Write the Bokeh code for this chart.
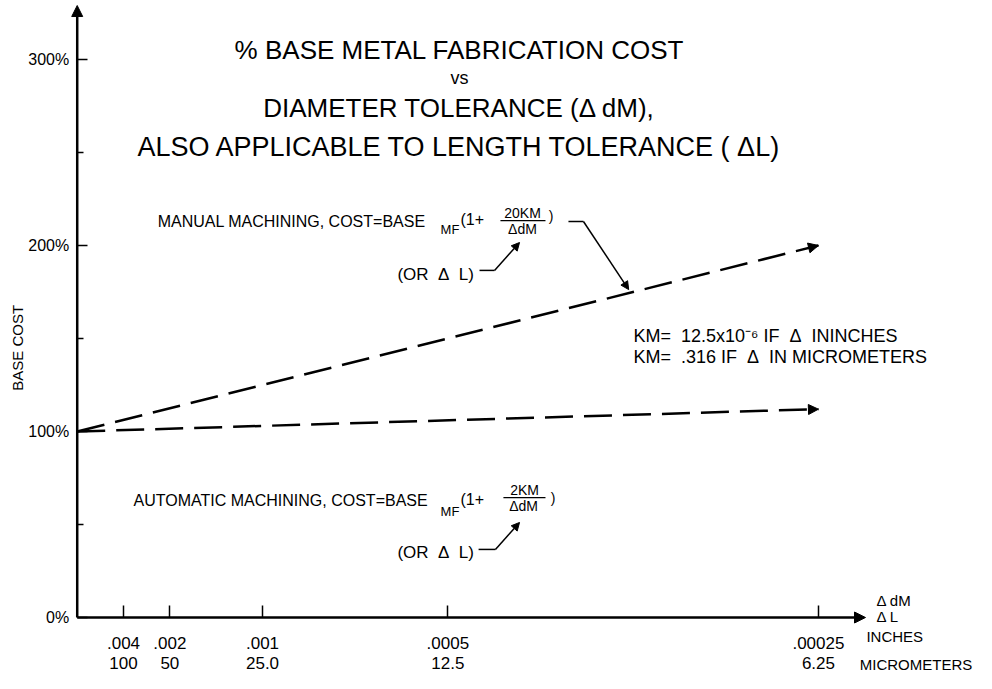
from bokeh.plotting import figure
from bokeh.models import Range1d, FixedTicker, Arrow, NormalHead
from bokeh.core.properties import value
from bokeh.embed import file_html
from bokeh.resources import INLINE
import math

# ---------------- data ----------------
tol_inches = [".004", ".002", ".001", ".0005", ".00025"]
tol_micrometers = ["100", "50", "25.0", "12.5", "6.25"]
inv_tol = [250, 500, 1000, 2000, 4000]          # 1 / tolerance (1/inch), linear scale
cost_ticks = [0, 100, 200, 300]
cost_minor_ticks = [50, 150, 250]
cost_labels = ["0%", "100%", "200%", "300%"]

line_x = [0, 4000]
manual_cost = [100, 200]
automatic_cost = [100, 112]

FONT = "Liberation Sans"
NB = "\u00a0"

p = figure(width=976, height=673, x_range=Range1d(-414, 4853), y_range=Range1d(-30.1, 331.7),
           output_backend="svg", toolbar_location=None, min_border=0)
p.outline_line_color = None
p.grid.visible = False
p.background_fill_color = "white"

# axes placed at the origin
xa = p.xaxis[0]
ya = p.yaxis[0]
xa.fixed_location = 0
ya.fixed_location = 0
xa.ticker = FixedTicker(ticks=inv_tol, minor_ticks=[])
xa.major_label_overrides = {t: f"{a}\n{b}" for t, a, b in zip(inv_tol, tol_inches, tol_micrometers)}
ya.ticker = FixedTicker(ticks=cost_ticks, minor_ticks=cost_minor_ticks)
ya.major_label_overrides = {t: l for t, l in zip(cost_ticks, cost_labels)}
for ax in (xa, ya):
    ax.axis_line_color = None
    ax.major_tick_out = 0
    ax.minor_tick_out = 0
    ax.major_tick_line_width = 1.5
    ax.minor_tick_line_width = 1.5
    ax.major_tick_line_color = "black"
    ax.minor_tick_line_color = "black"
    ax.major_label_text_font = FONT
    ax.major_label_text_color = "black"
xa.major_tick_in = 12
xa.minor_tick_in = 0
xa.major_label_standoff = 16
xa.major_label_text_font_size = "17px"
xa.major_label_text_line_height = 1.1
ya.major_tick_in = 10
ya.minor_tick_in = 6
ya.major_label_standoff = 8
ya.major_label_text_font_size = "16px"

# axis arrows
p.add_layout(Arrow(x_start=0, y_start=0, x_end=0, y_end=329, line_width=2.5,
                   end=NormalHead(size=11, fill_color="black", line_color="black")))
p.add_layout(Arrow(x_start=0, y_start=0, x_end=4254, y_end=0, line_width=2.5,
                   end=NormalHead(size=11, fill_color="black", line_color="black")))

# cost lines
for ys in (manual_cost, automatic_cost):
    p.line(line_x, ys, line_color="black", line_width=2.5, line_dash="28 11")
    p.add_layout(Arrow(x_start=line_x[0], y_start=ys[0], x_end=line_x[-1], y_end=ys[-1],
                       line_alpha=0,
                       end=NormalHead(size=10, fill_color="black", line_color="black")))


def txt(x, y, s, size, align="left", baseline="middle", angle=0.0):
    p.text(x=[x], y=[y], text=[s], text_font=value(FONT), text_font_size=f"{size}px",
           text_align=align, text_baseline=baseline, angle=angle, text_color="black")


# title
txt(2063, 305.0, "% BASE METAL FABRICATION COST", 26, "center")
txt(2063, 290.0, "vs", 18, "center")
txt(2063, 274.0, "DIAMETER TOLERANCE (\u0394 dM),", 26, "center")
txt(2063, 253.0, "ALSO APPLICABLE TO LENGTH TOLERANCE ( \u0394L)", 27, "center")

# y label
txt(-322, 145, "BASE COST", 15, "center", angle=math.pi / 2)

# manual machining formula
txt(434, 212.9, "MANUAL MACHINING, COST=BASE", 16)
txt(1961, 208.6, "MF", 13)
txt(2068, 214.0, "(1+", 16)
txt(2403, 217.7, "20KM", 14, "center")
p.line([2284, 2527], [213.4, 213.4], line_color="black", line_width=1.2)
txt(2403, 208.6, "\u0394dM", 14, "center")
txt(2545, 215.6, ")", 14)
txt(1728, 184.4, f"(OR{NB} \u0394{NB} L)", 17)

# automatic machining formula
txt(304, 62.9, "AUTOMATIC MACHINING, COST=BASE", 16)
txt(1961, 57.0, "MF", 13)
txt(2068, 63.4, "(1+", 16)
txt(2414, 68.8, "2KM", 14, "center")
p.line([2300, 2527], [64.5, 64.5], line_color="black", line_width=1.2)
txt(2409, 60.2, "\u0394dM", 14, "center")
txt(2555, 64.0, ")", 14)
txt(1728, 34.9, f"(OR{NB} \u0394{NB} L)", 17)

# leader lines
leaders = [
    ([2651, 2732, 2976], [212.9, 212.9, 176.3]),
    ([2171, 2252, 2387], [186.6, 186.6, 201.6]),
    ([2166, 2257, 2387], [36.6, 36.6, 51.1]),
]
for lx, ly in leaders:
    p.line(lx[:2], ly[:2], line_color="black", line_width=1.5)
    p.add_layout(Arrow(x_start=lx[1], y_start=ly[1], x_end=lx[2], y_end=ly[2], line_width=1.5,
                       end=NormalHead(size=8, fill_color="black", line_color="black")))

# KM notes
txt(3002, 151.6, f"KM={NB} 12.5x10\u207b\u2076 IF{NB} \u0394{NB} ININCHES", 18)
txt(3002, 139.8, f"KM={NB} .316 IF{NB} \u0394{NB} IN MICROMETERS", 18)

# x axis unit labels
txt(4313, 9.1, "\u0394 dM", 15)
txt(4313, 0.5, "\u0394 L", 15)
txt(4259, -10.2, "INCHES", 15)
txt(4830, -25.5, "MICROMETERS", 15, "right")

open("out.html", "w").write(file_html(p, INLINE))
